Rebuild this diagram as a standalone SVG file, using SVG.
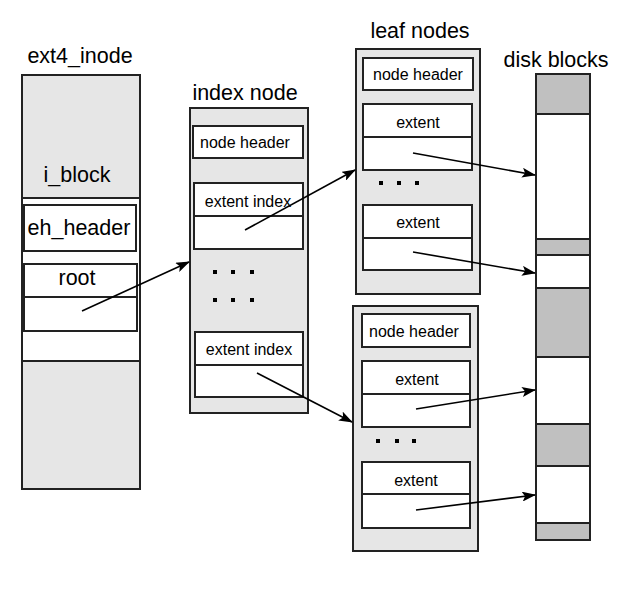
<svg xmlns="http://www.w3.org/2000/svg" width="619" height="589" viewBox="0 0 619 589">
<defs>
<marker id="ah" viewBox="0 0 14 10" refX="13" refY="5" markerWidth="14" markerHeight="10" markerUnits="userSpaceOnUse" orient="auto">
<path d="M0,0 L14,5 L0,10 L3,5 Z" fill="#000"/>
</marker>
</defs>
<style>
.bg{fill:#e6e6e6;stroke:#222;stroke-width:2}
.wb{fill:#fff;stroke:#222;stroke-width:2}
.dk{fill:#c0c0c0;stroke:#222;stroke-width:2}
.t{font-family:"Liberation Sans",Arial,sans-serif;fill:#000;text-anchor:middle}
.big{font-size:21.5px}
.sm{font-size:16px}
.conn line{stroke:#000;stroke-width:1.6;marker-end:url(#ah)}
.dot{fill:#000}
</style>
<rect width="619" height="589" fill="#fff"/>

<g id="ext4_inode">
<text class="t big" x="80" y="63">ext4_inode</text>
<rect class="bg" x="22" y="75" width="118" height="414"/>
<rect x="22" y="198" width="118" height="163" fill="#fff" stroke="#222" stroke-width="2"/>
<text class="t big" x="77" y="182">i_block</text>
<rect class="wb" x="24" y="205" width="112" height="46"/>
<text class="t big" x="79" y="235">eh_header</text>
<rect class="wb" x="24" y="264" width="113" height="33"/>
<rect class="wb" x="24" y="297" width="113" height="34"/>
<text class="t big" x="77" y="285">root</text>
</g>

<g id="index_node">
<text class="t big" x="245" y="100">index node</text>
<rect class="bg" x="190" y="108" width="118" height="305"/>
<rect class="wb" x="193" y="126" width="110" height="32"/>
<text class="t sm" x="245" y="148">node header</text>
<rect class="wb" x="194" y="183" width="109" height="33"/>
<rect class="wb" x="194" y="216" width="109" height="33"/>
<text class="t sm" x="248" y="207">extent index</text>
<rect class="dot" x="213" y="270" width="4" height="4"/>
<rect class="dot" x="231" y="270" width="4" height="4"/>
<rect class="dot" x="250" y="270" width="4" height="4"/>
<rect class="dot" x="213" y="298" width="4" height="4"/>
<rect class="dot" x="231" y="298" width="4" height="4"/>
<rect class="dot" x="250" y="298" width="4" height="4"/>
<rect class="wb" x="195" y="332" width="108" height="33"/>
<rect class="wb" x="195" y="365" width="108" height="32"/>
<text class="t sm" x="249" y="355">extent index</text>
</g>

<g id="leaf_node_1">
<text class="t big" x="420" y="38">leaf nodes</text>
<rect class="bg" x="356" y="49" width="124" height="245"/>
<rect class="wb" x="363" y="58" width="110" height="32"/>
<text class="t sm" x="418" y="80">node header</text>
<rect class="wb" x="363" y="104" width="109" height="33"/>
<rect class="wb" x="363" y="137" width="109" height="33"/>
<text class="t sm" x="418" y="128">extent</text>
<rect class="dot" x="379" y="181" width="4" height="4"/>
<rect class="dot" x="397" y="181" width="4" height="4"/>
<rect class="dot" x="415" y="181" width="4" height="4"/>
<rect class="wb" x="363" y="205" width="109" height="33"/>
<rect class="wb" x="363" y="238" width="109" height="32"/>
<text class="t sm" x="418" y="228">extent</text>
</g>

<g id="leaf_node_2">
<rect class="bg" x="353" y="306" width="125" height="245"/>
<rect class="wb" x="362" y="314" width="108" height="33"/>
<text class="t sm" x="414" y="337">node header</text>
<rect class="wb" x="362" y="361" width="108" height="33"/>
<rect class="wb" x="362" y="394" width="108" height="33"/>
<text class="t sm" x="417" y="385">extent</text>
<rect class="dot" x="376" y="439" width="4" height="4"/>
<rect class="dot" x="395" y="439" width="4" height="4"/>
<rect class="dot" x="412" y="439" width="4" height="4"/>
<rect class="wb" x="362" y="462" width="108" height="32"/>
<rect class="wb" x="362" y="494" width="108" height="34"/>
<text class="t sm" x="416" y="486">extent</text>
</g>

<g id="disk_blocks">
<text class="t big" x="556" y="67">disk blocks</text>
<rect class="dk" x="536" y="74" width="54" height="40"/>
<rect class="wb" x="536" y="114" width="54" height="125"/>
<rect class="dk" x="536" y="239" width="54" height="16"/>
<rect class="wb" x="536" y="255" width="54" height="33"/>
<rect class="dk" x="536" y="288" width="54" height="69"/>
<rect class="wb" x="536" y="357" width="54" height="67"/>
<rect class="dk" x="536" y="424" width="54" height="42"/>
<rect class="wb" x="536" y="466" width="54" height="57"/>
<rect class="dk" x="536" y="523" width="54" height="17"/>
</g>

<g id="connectors" class="conn">
<line x1="82" y1="311" x2="189" y2="262"/>
<line x1="245" y1="230" x2="355" y2="170"/>
<line x1="257" y1="373" x2="352" y2="422"/>
<line x1="413" y1="153" x2="535" y2="175"/>
<line x1="413" y1="252" x2="535" y2="273"/>
<line x1="416" y1="409" x2="535" y2="390"/>
<line x1="416" y1="510" x2="535" y2="495"/>
</g>
</svg>
